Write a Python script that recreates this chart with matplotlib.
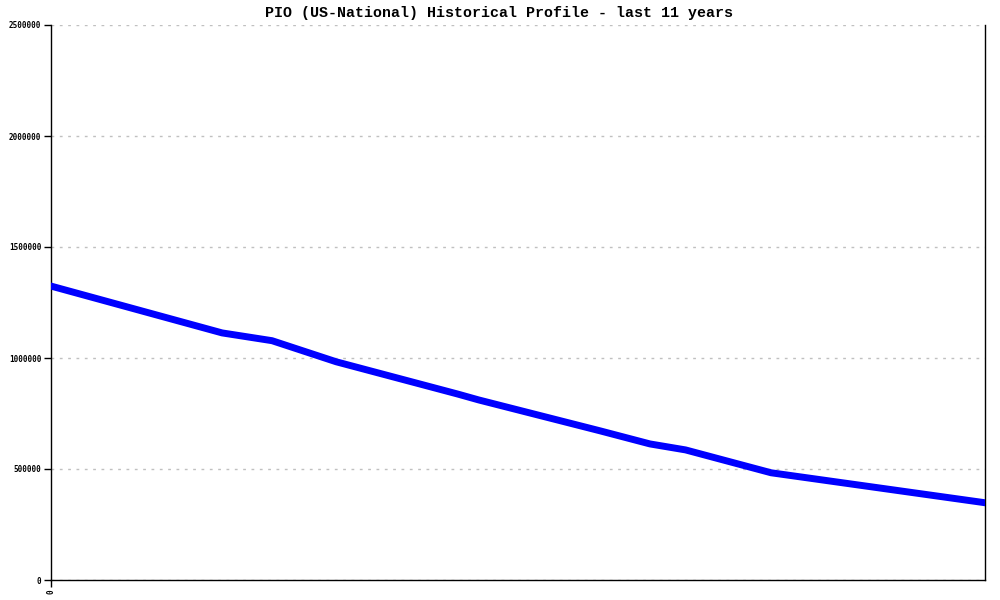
import matplotlib
matplotlib.use("Agg")
import matplotlib.pyplot as plt

title = "PIO (US-National) Historical Profile - last 11 years"
periods = [0, 24, 31, 40, 57, 60, 77, 84, 89, 101, 131]
values = [1324000, 1113000, 1078000, 983000, 838000, 811000, 672000, 613000, 586000, 483000, 348000]
yticks = [0, 500000, 1000000, 1500000, 2000000, 2500000]
xticks = [0]
xticklabels = ["0"]

fig = plt.figure(figsize=(10, 6), dpi=100)
ax = fig.add_axes([0.051, 20/600, 0.934, 555/600])
ax.plot(periods, values, color="#0000ff", linewidth=5, solid_joinstyle="round", zorder=3)
ax.set_xlim(periods[0], periods[-1])
ax.set_ylim(0, 2500000)
ax.set_yticks(yticks)
ax.set_yticklabels([str(v) for v in yticks], fontsize=5.5, family="DejaVu Sans Mono", fontweight="bold")
ax.set_xticks(xticks)
ax.set_xticklabels(xticklabels, fontsize=5.5, family="DejaVu Sans Mono", fontweight="bold", rotation=90)
ax.yaxis.grid(True, color="#c0c0c0", linestyle=(0, (2, 4)), linewidth=1)
ax.set_axisbelow(True)
ax.spines["top"].set_visible(False)
for s in ["left", "bottom", "right"]:
    ax.spines[s].set_color("black")
    ax.spines[s].set_linewidth(1)
ax.tick_params(axis="both", direction="out", length=5, width=1, pad=2, colors="black")
fig.text(0.499, 1 - 13/600, title, fontsize=10.8, family="Liberation Mono", fontweight="bold",
         ha="center", va="center")
fig.savefig("out.png", dpi=100)
